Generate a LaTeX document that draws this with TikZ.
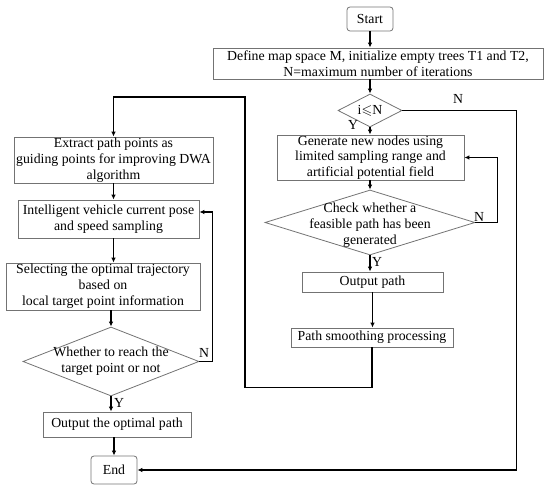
\documentclass[tikz,border=0pt]{standalone}
\usepackage{fontspec}
\setmainfont{Liberation Serif}
\usepackage{amssymb}
\usetikzlibrary{arrows.meta,shapes.geometric}
\begin{document}
\begin{tikzpicture}[x=1pt,y=-1pt,
 every node/.style={font=\fontsize{13.8}{15.8}\selectfont},
 box/.style={draw=black!55, line width=0.8pt, rectangle, align=center, inner sep=0pt},
 rbox/.style={box, rounded corners=3pt},
 dia/.style={draw=black!55, line width=0.8pt, diamond, inner sep=0pt},
 dtext/.style={align=center, inner sep=0pt},
 flow/.style={line width=1.3pt, -{Latex[length=5pt,width=4.5pt]}},
 lbl/.style={inner sep=0pt}]
\useasboundingbox (0,0) rectangle (550,492);
% right column
\node[rbox, minimum width=46, minimum height=24] (start) at (370,19) {Start};
\node[box, minimum width=330, minimum height=31] (def) at (378,63.5) {Define map space M, initialize empty trees T1 and T2,\\N=maximum number of iterations};
\node[dia, minimum width=64, minimum height=33] (d1) at (370,110.5) {};
\node[dtext] (d1t) at (d1) {i$\leqslant$N};
\node[box, minimum width=187, minimum height=45] (gen) at (370.5,157.5) {Generate new nodes using\\limited sampling range and\\artificial potential field};
\node[dia, minimum width=210, minimum height=65] (d2) at (370,222.5) {};
\node[dtext] (d2t) at (370,225) {Check whether a\\feasible path has been\\generated};
\node[box, minimum width=141, minimum height=20] (out) at (372.5,282) {Output path};
\node[box, minimum width=162, minimum height=19] (smooth) at (372,337.5) {Path smoothing processing};
% left column
\node[box, minimum width=199, minimum height=46] (ext) at (113.5,160) {Extract path points as\\guiding points for improving DWA\\algorithm};
\node[box, minimum width=181, minimum height=38] (intel) at (108.5,219) {Intelligent vehicle current pose\\and speed sampling};
\node[box, minimum width=194, minimum height=47] (sel) at (103,286.5) {Selecting the optimal trajectory\\based on\\local target point information};
\node[dia, minimum width=176, minimum height=69] (d3) at (111,361.5) {};
\node[dtext] (d3t) at (d3) {Whether to reach the\\target point or not};
\node[box, minimum width=148, minimum height=25] (outopt) at (117,424.5) {Output the optimal path};
\node[rbox, minimum width=46, minimum height=28] (end) at (114,470) {End};
\coordinate (lp) at (245,97);
% connectors right
\draw[flow] (start) -- (start |- def.north);
\draw[flow] (d1 |- def.south) -- (d1.north);
\draw[flow] (d1.south) -- (d1.south |- gen.north);
\draw[flow] (d2 |- gen.south) -- (d2.north);
\draw[flow] (d2.south) -- (d2.south |- out.north);
\draw[flow] (out.south) -- (out.south |- smooth.north);
\draw[flow] (d2.east) -- ++(22,0) |- (gen.east);
\draw[flow] (d1.east) -- ++(114,0) |- (end.east);
\draw[flow] (smooth.south) -- ++(0,40) -| (lp) -| (ext.north);
% connectors left
\draw[flow] (ext.south) -- (ext.south |- intel.north);
\draw[flow] (ext.south |- intel.south) -- (ext.south |- sel.north);
\draw[flow] (d3 |- sel.south) -- (d3.north);
\draw[flow] (d3.south) -- (d3.south |- outopt.north);
\draw[flow] (end |- outopt.south) -- (end.north);
\draw[flow] (d3.east) -- ++(13,0) |- ([yshift=7pt]intel.east);
% labels
\node[lbl] (n1) at (458,99) {N};
\node[lbl] (y1) at (353,125) {Y};
\node[lbl] (n2) at (479,217) {N};
\node[lbl] (y2) at (377,262) {Y};
\node[lbl] (n3) at (204,353) {N};
\node[lbl] (y3) at (119,403) {Y};
\end{tikzpicture}
\end{document}
